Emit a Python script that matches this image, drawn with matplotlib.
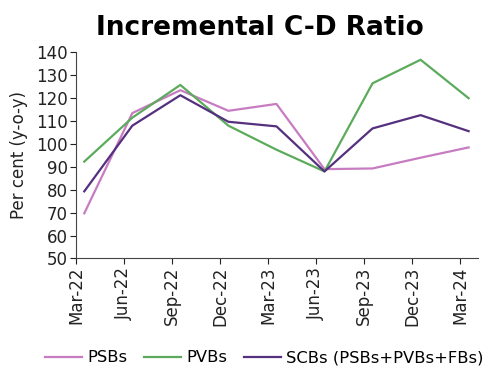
import numpy as np
import matplotlib
matplotlib.use("Agg")
import matplotlib.pyplot as plt

quarters = ["Mar-22", "Jun-22", "Sep-22", "Dec-22", "Mar-23",
            "Jun-23", "Sep-23", "Dec-23", "Mar-24"]
psbs = [69.7, 113.5, 123.5, 114.5, 117.5, 89.0, 89.3, 94.0, 98.5]
pvbs = [92.3, 111.5, 125.8, 108.0, 97.5, 88.0, 126.5, 136.8, 120.0]
scbs = [79.3, 108.0, 121.3, 109.7, 107.7, 88.0, 106.8, 112.6, 105.6]

series_names = ["PSBs", "PVBs", "SCBs (PSBs+PVBs+FBs)"]
colors = ["#c77cc2", "#5cab5c", "#55307f"]

plt.rcParams['font.family'] = ['DejaVu Sans']

fig = plt.figure(figsize=(4.91, 3.80), dpi=100)
ax = fig.add_axes([0.155, 0.320, 0.819, 0.542])

x = np.arange(len(quarters))
offset = 0.17  # points sit slightly right of the tick marks in the original
for vals, name, c in zip([psbs, pvbs, scbs], series_names, colors):
    ax.plot(x + offset, vals, color=c, lw=1.6, label=name)

ax.set_xlim(0, 8.37)
ax.set_ylim(50, 140)
ax.set_yticks(np.arange(50, 141, 10))
ax.set_xticks(x)
ax.set_xticklabels(quarters, rotation=90)
ax.tick_params(labelsize=12, length=4, width=0.8, colors="#222222", pad=2)
ax.spines["top"].set_visible(False)
ax.spines["right"].set_visible(False)
for s in ["left", "bottom"]:
    ax.spines[s].set_color("#444444")
    ax.spines[s].set_linewidth(0.8)

ax.set_ylabel("Per cent (y-o-y)", fontsize=12, color="#222222", labelpad=6)

fig.text(0.53, 0.926, "Incremental C-D Ratio", ha="center", va="center",
         fontsize=19, fontweight="bold", color="#000000")

fig.legend(loc="center", bbox_to_anchor=(0.538, 0.058), ncol=3, frameon=False,
           fontsize=11.8, handlelength=2.3, columnspacing=1.0, handletextpad=0.3)

fig.savefig("out.png", dpi=100)
